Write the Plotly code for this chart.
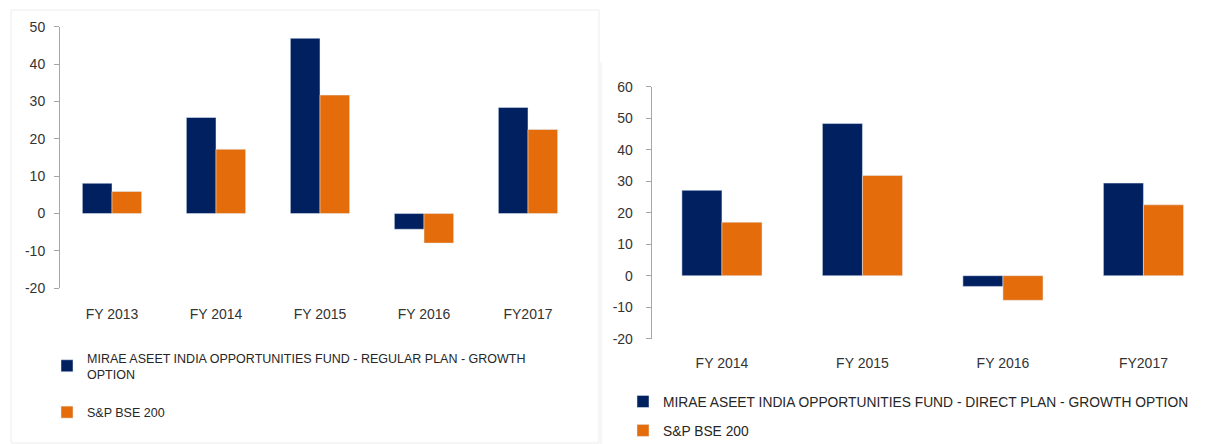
import plotly.graph_objects as go

W, H = 1211, 444

# ---------------- data ----------------
cats_reg = ["FY 2013", "FY 2014", "FY 2015", "FY 2016", "FY2017"]
fund_reg = [8.1, 25.7, 46.9, -4.2, 28.4]
bse_reg = [5.9, 17.2, 31.7, -7.9, 22.5]

cats_dir = ["FY 2014", "FY 2015", "FY 2016", "FY2017"]
fund_dir = [27.1, 48.3, -3.4, 29.4]
bse_dir = [17.0, 31.8, -7.8, 22.5]

yticks_reg = [-20, -10, 0, 10, 20, 30, 40, 50]
yticks_dir = [-20, -10, 0, 10, 20, 30, 40, 50, 60]

name_reg = "MIRAE ASEET INDIA OPPORTUNITIES FUND - REGULAR PLAN - GROWTH<br>OPTION"
name_dir = "MIRAE ASEET INDIA OPPORTUNITIES FUND - DIRECT PLAN - GROWTH OPTION"
name_bse = "S&P BSE 200"

# ---------------- style ----------------
NAVY = "#002060"
ORANGE = "#E46C0A"
AXIS = "#A6A6A6"
TXT = "#333333"
FAM = "Liberation Sans, Arial, sans-serif"
TICKFONT = dict(family=FAM, size=14, color=TXT)
LEGFONT1 = dict(family=FAM, size=12.5, color="#262626")
LEGFONT2 = dict(family=FAM, size=13.8, color="#262626")


def px_x(p):
    return p / W


def px_y(p):
    return 1 - p / H


# plot areas in pixels
L_x = [60, 580]
L_y = [26.7, 288.3]
R_x = [651.7, 1211]
R_y = [86.7, 338.7]
R_cat_w = 140.5

xdom1 = [px_x(L_x[0]), px_x(L_x[1])]
ydom1 = [px_y(L_y[1]), px_y(L_y[0])]
xdom2 = [px_x(R_x[0]), 1.0]
ydom2 = [px_y(R_y[1]), px_y(R_y[0])]

yr1 = [min(yticks_reg), max(yticks_reg)]
yr2 = [min(yticks_dir), max(yticks_dir)]
xr1 = [-0.5, len(cats_reg) - 0.5]
xr2 = [-0.5, -0.5 + (R_x[1] - R_x[0]) / R_cat_w]


def zero_pos(ydom, yr):
    return ydom[0] + (0 - yr[0]) / (yr[1] - yr[0]) * (ydom[1] - ydom[0])


fig = go.Figure()

fig.add_trace(go.Bar(x=cats_reg, y=fund_reg, name=name_reg, marker_color=NAVY,
                     xaxis="x", yaxis="y", legend="legend", legendgroup="a"))
fig.add_trace(go.Bar(x=cats_reg, y=bse_reg, name=name_bse, marker_color=ORANGE,
                     xaxis="x", yaxis="y", legend="legend", legendgroup="b"))
fig.add_trace(go.Bar(x=cats_dir, y=fund_dir, name=name_dir, marker_color=NAVY,
                     xaxis="x2", yaxis="y2", legend="legend2", legendgroup="c"))
fig.add_trace(go.Bar(x=cats_dir, y=bse_dir, name=name_bse, marker_color=ORANGE,
                     xaxis="x2", yaxis="y2", legend="legend2", legendgroup="d"))

cat_axis = dict(type="category", showline=False, ticks="", showgrid=False, zeroline=False,
                tickfont=TICKFONT, ticklabelstandoff=16, fixedrange=True)
val_axis = dict(showline=True, linecolor=AXIS, linewidth=1, ticks="outside", ticklen=5,
                tickcolor=AXIS, showgrid=False, zeroline=False, tickfont=TICKFONT,
                tickmode="array")
zero_axis = dict(type="linear", showline=True, linecolor=AXIS, linewidth=1, ticks="outside",
                 ticklen=5, tickcolor=AXIS, showticklabels=False, showgrid=False,
                 zeroline=False, anchor="free", tickmode="array")

fig.update_layout(
    width=W, height=H,
    margin=dict(l=0, r=0, t=0, b=0, autoexpand=False),
    paper_bgcolor="white", plot_bgcolor="white",
    barmode="group", bargap=0.43, bargroupgap=0,
    xaxis=dict(cat_axis, domain=xdom1, range=xr1, anchor="y"),
    yaxis=dict(val_axis, domain=ydom1, range=yr1, tickvals=yticks_reg,
               ticktext=[str(v) for v in yticks_reg], anchor="x", ticklabelstandoff=6),
    xaxis2=dict(cat_axis, domain=xdom2, range=xr2, anchor="y2", ticklabelstandoff=14),
    yaxis2=dict(val_axis, domain=ydom2, range=yr2, tickvals=yticks_dir,
                ticktext=[str(v) for v in yticks_dir], anchor="x2", ticklabelstandoff=10),
    xaxis3=dict(zero_axis, domain=xdom1, range=xr1, overlaying="x",
                position=zero_pos(ydom1, yr1),
                tickvals=[i + 0.5 for i in range(len(cats_reg))]),
    xaxis4=dict(zero_axis, domain=xdom2, range=xr2, overlaying="x2",
                position=zero_pos(ydom2, yr2),
                tickvals=[i + 0.5 for i in range(len(cats_dir))]),
    legend=dict(x=px_x(47), y=px_y(343), xanchor="left", yanchor="top",
                orientation="v", traceorder="grouped", tracegroupgap=19,
                font=LEGFONT1, bgcolor="rgba(0,0,0,0)", itemclick=False),
    legend2=dict(x=px_x(623), y=px_y(386), xanchor="left", yanchor="top",
                 orientation="v", traceorder="grouped", tracegroupgap=8,
                 font=LEGFONT2, bgcolor="rgba(0,0,0,0)", itemclick=False),
    showlegend=True,
    shapes=[
        dict(type="rect", xref="paper", yref="paper", x0=px_x(11), x1=px_x(599),
             y0=px_y(443), y1=px_y(10), line=dict(color="#EDEDED", width=1), layer="below"),
        dict(type="line", xref="paper", yref="paper", x0=px_x(601), x1=px_x(601),
             y0=px_y(444), y1=px_y(62), line=dict(color="#EDEDED", width=1), layer="below"),
    ],
)

fig.write_html("out.html", config={"displayModeBar": False},
               post_script="document.body.style.margin='0px';")
